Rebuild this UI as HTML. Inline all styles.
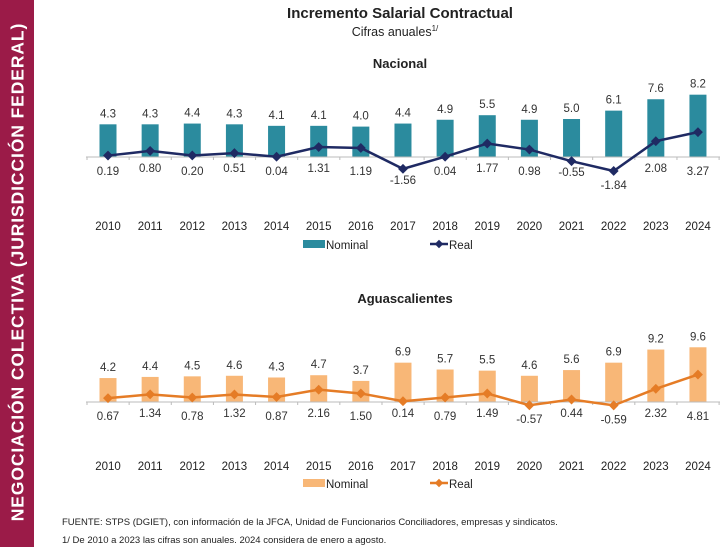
<!DOCTYPE html>
<html><head><meta charset="utf-8"><style>
body{margin:0;width:728px;height:547px;background:#fff;overflow:hidden;font-family:"Liberation Sans",sans-serif;}
#side{position:absolute;left:0;top:0;width:34px;height:547px;background:#9b1b48;}
#side span{position:absolute;left:18px;top:272px;transform:translate(-50%,-50%) rotate(-90deg);white-space:nowrap;color:#fff;font-weight:bold;font-size:17.5px;letter-spacing:0.9px;}
svg{position:absolute;left:0;top:0;}
</style></head><body>
<div id="side"><span>NEGOCIACIÓN COLECTIVA (JURISDICCIÓN FEDERAL)</span></div>
<svg id="c" width="728" height="547">
<text x="400" y="18" text-anchor="middle" font-size="15" font-weight="bold" fill="#222">Incremento Salarial Contractual</text>
<text x="395" y="36" text-anchor="middle" font-size="12.5" fill="#222">Cifras anuales<tspan font-size="8" dy="-5">1/</tspan></text>
<text x="400" y="68" text-anchor="middle" font-size="13" font-weight="bold" fill="#222">Nacional</text>
<text x="405" y="303" text-anchor="middle" font-size="13" font-weight="bold" fill="#222">Aguascalientes</text>
<text x="62" y="525" font-size="9.5" fill="#222">FUENTE: STPS (DGIET),  con información de la JFCA, Unidad de Funcionarios Conciliadores, empresas y sindicatos.</text>
<text x="62" y="543" font-size="9.5" fill="#222">1/ De 2010 a 2023 las cifras son anuales. 2024 considera de enero a agosto.</text>
</svg>
<script>
const years=["2010","2011","2012","2013","2014","2015","2016","2017","2018","2019","2020","2021","2022","2023","2024"];
const nacNominal=[4.3,4.3,4.4,4.3,4.1,4.1,4.0,4.4,4.9,5.5,4.9,5.0,6.1,7.6,8.2];
const nacReal=[0.19,0.80,0.20,0.51,0.04,1.31,1.19,-1.56,0.04,1.77,0.98,-0.55,-1.84,2.08,3.27];
const agsNominal=[4.2,4.4,4.5,4.6,4.3,4.7,3.7,6.9,5.7,5.5,4.6,5.6,6.9,9.2,9.6];
const agsReal=[0.67,1.34,0.78,1.32,0.87,2.16,1.50,0.14,0.79,1.49,-0.57,0.44,-0.59,2.32,4.81];
const svg=document.getElementById('c');const NS='http://www.w3.org/2000/svg';
function mk(t,a,txt){const e=document.createElementNS(NS,t);for(const k in a)e.setAttribute(k,a[k]);if(txt!==undefined)e.textContent=txt;svg.appendChild(e);return e;}
const xs=i=>108+i*42.14;
function panel(key,nom,real,axisY,scale,barCol,lineCol,yearY,legY){
  const y=v=>axisY-v*scale;
  nom.forEach((v,i)=>{
    let r=mk('rect',{x:xs(i)-8.5,y:y(v),width:17,height:axisY-y(v),fill:barCol});
    
    
    let t=mk('text',{x:xs(i),y:y(v)-7,'text-anchor':'middle','font-size':11.5,fill:'#333'},v.toFixed(1));
    
    
  });
  let ax=mk('line',{x1:86,x2:720,y1:axisY,y2:axisY,stroke:'#bbb','stroke-width':1});
  
  
  for(let i=0;i<=15;i++){let tk=mk('line',{x1:87+i*42.14,x2:87+i*42.14,y1:axisY,y2:axisY+3,stroke:'#bbb'});
    
    }
  let pl=mk('polyline',{points:real.map((v,i)=>xs(i)+','+y(v)).join(' '),fill:'none',stroke:lineCol,'stroke-width':2.5});
  
  
  real.forEach((v,i)=>{
    let m=mk('rect',{x:xs(i)-3.5,y:y(v)-3.5,width:7,height:7,fill:lineCol,transform:`rotate(45 ${xs(i)} ${y(v)})`});
    
    
    const ly=Math.max(axisY+18,y(v)+18)-(i%2?3:0);
    let t=mk('text',{x:xs(i),y:ly,'text-anchor':'middle','font-size':11.5,fill:'#333'},v.toFixed(2));
    
    
  });
  years.forEach((yr,i)=>{let t=mk('text',{x:xs(i),y:yearY,'text-anchor':'middle','font-size':11.5,fill:'#222'},yr);
    
    });
  let s=mk('rect',{x:303,y:legY-9,width:22,height:8,fill:barCol});
  
  
  let t1=mk('text',{x:326,y:legY,'font-size':11.5,fill:'#222'},'Nominal');
  
  
  let l=mk('line',{x1:430,x2:448,y1:legY-5,y2:legY-5,stroke:lineCol,'stroke-width':2.5});
  
  
  let d=mk('rect',{x:436,y:legY-8,width:6,height:6,fill:lineCol,transform:`rotate(45 439 ${legY-5})`});
  
  
  let t2=mk('text',{x:449,y:legY,'font-size':11.5,fill:'#222'},'Real');
  
  
}
panel('nacional',nacNominal,nacReal,157,7.6,'#2b8b9e','#1f2a63',230,249);
panel('aguascalientes',agsNominal,agsReal,402,5.7,'#f8b777','#e57c26',470,488);
</script>
</body></html>
